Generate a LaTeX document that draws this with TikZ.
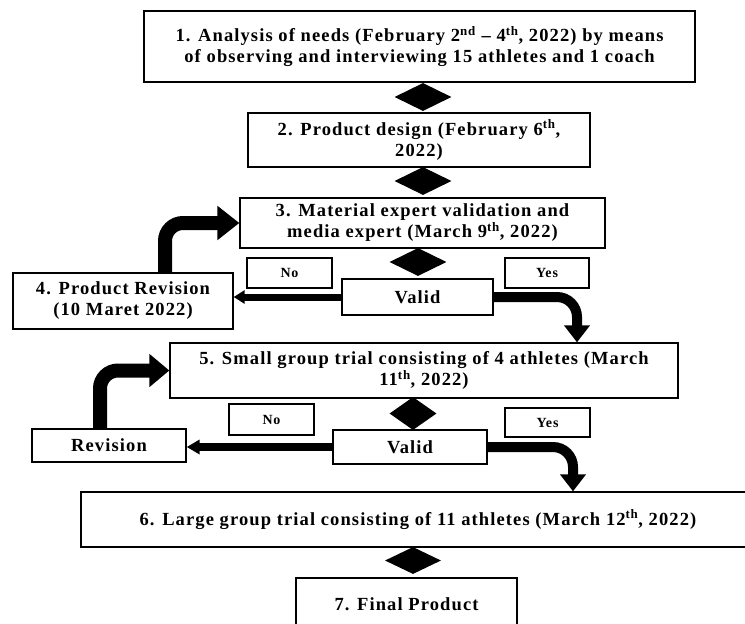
\documentclass[tikz,border=0pt]{standalone}
\usepackage{fontspec}
\setmainfont{Liberation Serif}
\newfontfamily\tnr{Liberation Serif}[LetterSpace=6]
\usetikzlibrary{shapes.geometric,arrows.meta}
\begin{document}
\begin{tikzpicture}[x=1pt,y=-1pt,
  box/.style={draw=black, line width=1.3pt, fill=white, inner sep=0pt, align=center,
    font=\tnr\bfseries\fontsize{18.5}{21}\selectfont},
  smallbox/.style={box, font=\tnr\bfseries\fontsize{14}{16}\selectfont},
  dia/.style={shape=diamond, fill=black, draw=none, inner sep=0pt},
  fatarrow/.style={draw=black, line cap=butt, rounded corners=18pt}
]
\useasboundingbox (0,0) rectangle (745,624);
\clip (0,0) rectangle (745,624);

% boxes
\node[box, minimum width=551pt, minimum height=71pt] (b1) at (419.5,46.5)
  {1. Analysis of needs (February 2\textsuperscript{nd} \textendash{} 4\textsuperscript{th}, 2022) by means\\
   of observing and interviewing 15 athletes and 1 coach};
\node[dia, minimum width=57pt, minimum height=28pt] (d1) at (423,97) {};
\node[box, minimum width=342pt, minimum height=54pt] (b2) at (419,140)
  {2. Product design (February 6\textsuperscript{th},\\ 2022)};
\node[dia, minimum width=57pt, minimum height=28pt] (d2) at (423,181) {};
\node[box, minimum width=365pt, minimum height=50pt] (b3) at (422.5,223)
  {3. Material expert validation and\\ media expert (March 9\textsuperscript{th}, 2022)};
\node[dia, minimum width=57pt, minimum height=28pt] (d3) at (418,262) {};
\node[smallbox, minimum width=85pt, minimum height=30pt] (no1) at (289.5,273) {No};
\node[smallbox, minimum width=84pt, minimum height=30pt] (yes1) at (547,273) {Yes};
\node[box, minimum width=151pt, minimum height=36pt] (v1) at (417.5,297) {Valid};
\node[box, minimum width=220pt, minimum height=56pt] (b4) at (123,301)
  {4. Product Revision\\ (10 Maret 2022)};

\node[box, minimum width=508pt, minimum height=55pt] (b5) at (424,370.5)
  {5. Small group trial consisting of 4 athletes (March\\ 11\textsuperscript{th}, 2022)};
\node[dia, minimum width=47pt, minimum height=33pt] (d4) at (413,413.5) {};
\node[smallbox, minimum width=85pt, minimum height=31pt] (no2) at (271.5,419.5) {No};
\node[smallbox, minimum width=85pt, minimum height=29pt] (yes2) at (547.5,422.5) {Yes};
\node[box, minimum width=154pt, minimum height=34pt] (v2) at (410,447) {Valid};
\node[box, minimum width=154pt, minimum height=33pt] (rev) at (109,445.5) {Revision};

\node[box, minimum width=674pt, minimum height=55pt] (b6) at (418,519.5)
  {6. Large group trial consisting of 11 athletes (March 12\textsuperscript{th}, 2022)};
\node[dia, minimum width=56pt, minimum height=27pt] (d5) at (413,560.5) {};
\node[box, minimum width=221pt, minimum height=52pt] (b7) at (406.5,604) {7. Final Product};

% arrows
\draw[fatarrow, line width=7pt, -{Triangle[width=13pt,length=11pt]}]
  (v1.west) -- (v1.west -| b4.east);
\draw[fatarrow, line width=14pt, -{Triangle[width=33pt,length=22pt]}]
  ([xshift=42pt]b4.north) |- (b3.west);
\draw[fatarrow, line width=10pt, rounded corners=20pt, -{Triangle[width=25pt,length=17pt]}]
  (v1.east) -| ([xshift=153pt]b5.north);

\draw[fatarrow, line width=8pt, -{Triangle[width=14pt,length=13pt]}]
  (v2.west) -- (v2.west -| rev.east);
\draw[fatarrow, line width=14pt, -{Triangle[width=32pt,length=20pt]}]
  ([xshift=-9pt]rev.north) |- (b5.west);
\draw[fatarrow, line width=10pt, rounded corners=20pt, -{Triangle[width=25pt,length=17pt]}]
  (v2.east) -| ([xshift=155pt]b6.north);
\end{tikzpicture}
\end{document}
